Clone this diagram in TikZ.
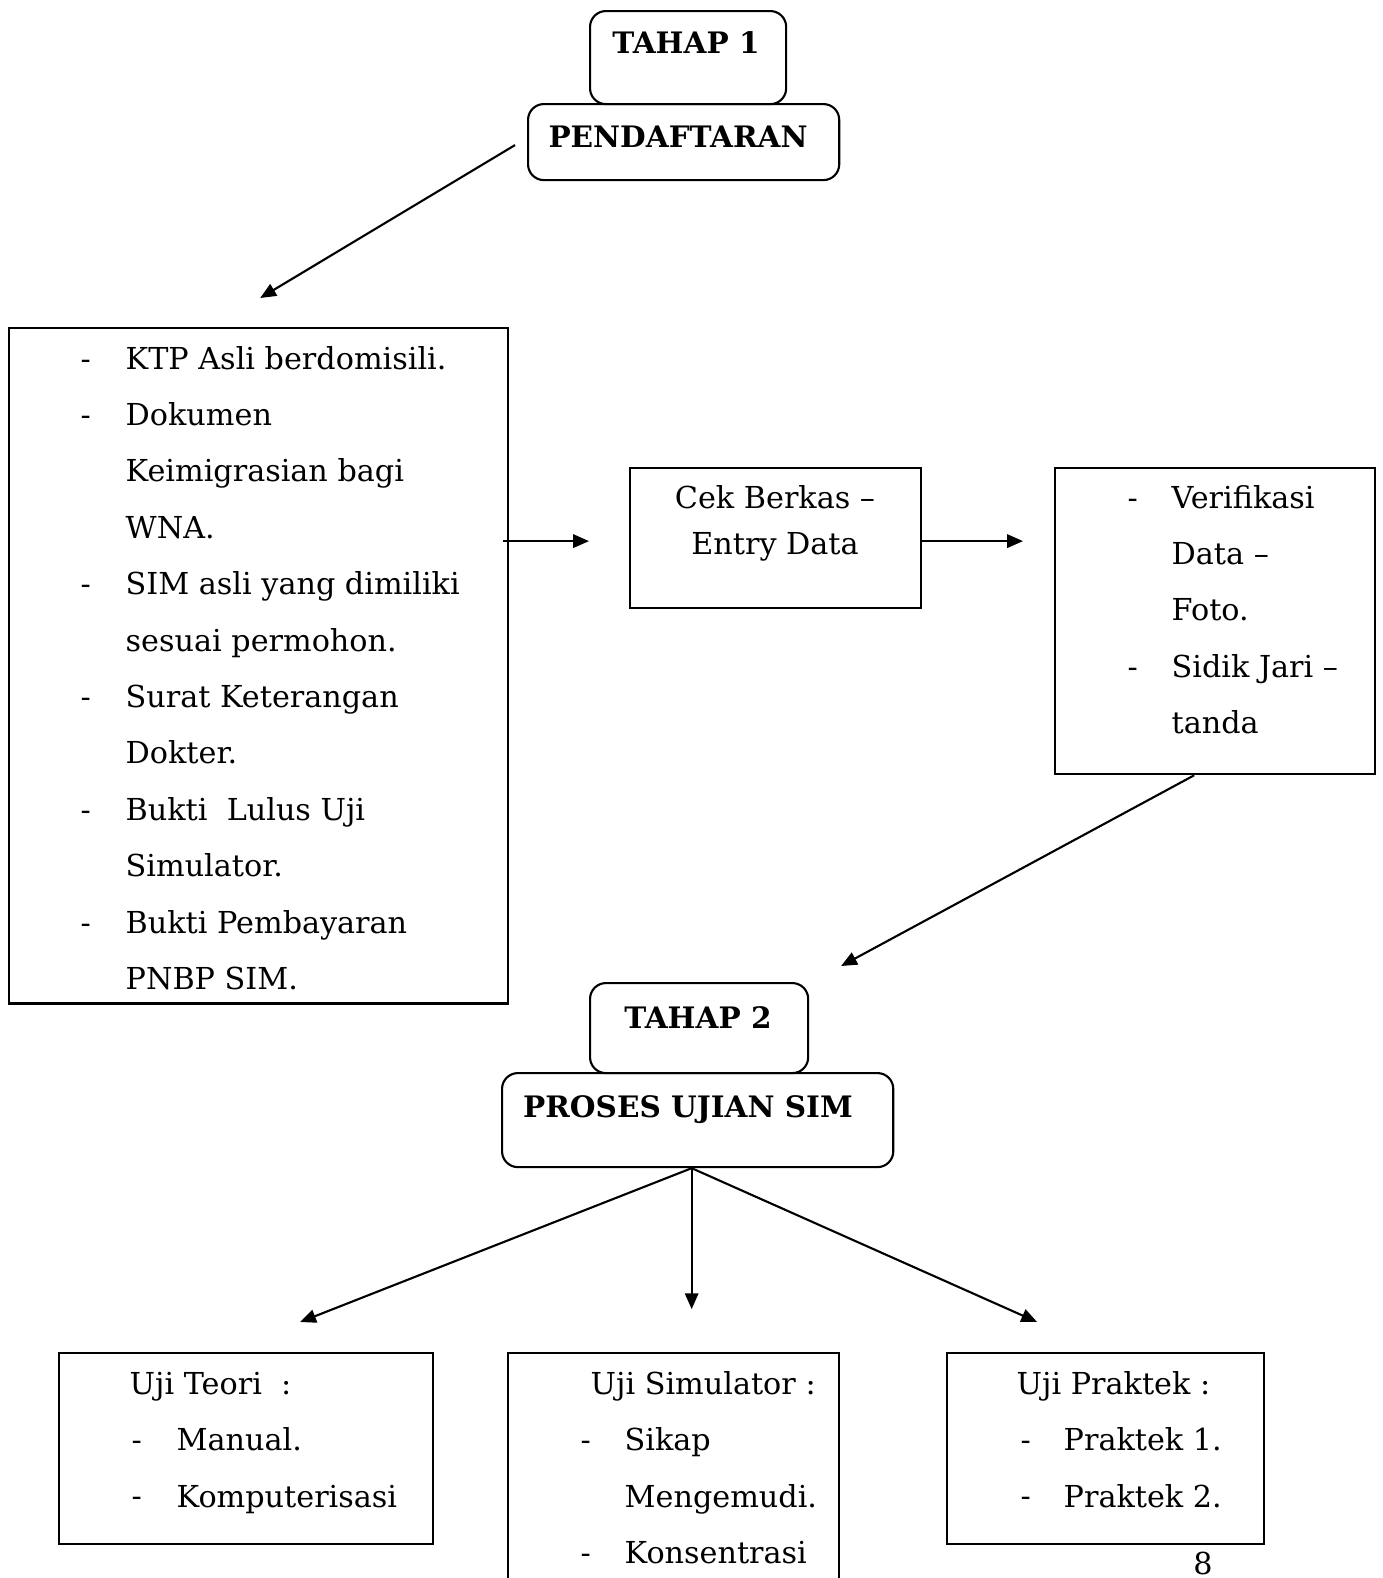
\documentclass[tikz,border=0pt]{standalone}
\usepackage{fontspec}
\setmainfont{DejaVu Serif}
\usetikzlibrary{arrows.meta, positioning, calc}

\begin{document}
\begin{tikzpicture}[x=0.01cm, y=-0.01cm,
    box/.style={draw, line width=0.6pt, anchor=north west, inner sep=0pt},
    rbox/.style={box, rounded corners=4.5pt},
    title/.style={font=\fontsize{8.4}{10}\selectfont\bfseries, anchor=base, inner sep=0pt},
    item/.style={font=\fontsize{8.6}{10}\selectfont, anchor=base west, inner sep=0pt},
    arr/.style={-{Triangle[length=4.5pt, width=3.8pt]}, line width=0.6pt}
  ]
    \useasboundingbox (0,0) rectangle (1383,1578);

    % tahap 1
    \node[rbox, minimum width=1.96cm, minimum height=0.93cm] (tahap1) at (589,10) {};
    \node[rbox, minimum width=3.11cm, minimum height=0.76cm] (daftar) at (527,103) {};
    \node[title] (t1) at (686,53) {TAHAP 1};
    \node[title] (t2) at (678,147) {PENDAFTARAN};

    % persyaratan
    \node[box, minimum width=4.99cm, minimum height=6.75cm] (req) at (8,327) {};
    \foreach \t [count=\i from 0] in {KTP Asli berdomisili., Dokumen, Keimigrasian bagi,
        WNA., SIM asli yang dimiliki, sesuai permohon., Surat Keterangan, Dokter.,
        Bukti\ \ Lulus Uji, Simulator., Bukti Pembayaran, PNBP SIM.}
      \node[item] (r\i) at (125,369+56.4*\i) {\t};
    \foreach \i in {0,1,4,6,8,10}
      \node[item] (rd\i) at (80,369+56.4*\i) {-};

    % cek berkas
    \node[box, minimum width=2.91cm, minimum height=1.40cm] (cek) at (629,467) {};
    \node[item, anchor=base] (c1) at (775,508) {Cek Berkas --};
    \node[item, anchor=base] (c2) at (775,554) {Entry Data};

    % verifikasi
    \node[box, minimum width=3.20cm, minimum height=3.06cm] (verif) at (1054,467) {};
    \foreach \t [count=\i from 0] in {Verifikasi, Data --, Foto., Sidik Jari --, tanda}
      \node[item] (v\i) at (1171,508+56.4*\i) {\t};
    \foreach \i in {0,3}
      \node[item] (vd\i) at (1127,508+56.4*\i) {-};

    % tahap 2
    \node[rbox, minimum width=2.18cm, minimum height=0.90cm] (tahap2) at (589,982) {};
    \node[rbox, minimum width=3.91cm, minimum height=0.94cm] (proses) at (501,1072) {};
    \node[title] (t3) at (698,1028) {TAHAP 2};
    \node[title] (t4) at (688,1117) {PROSES UJIAN SIM};

    % ujian
    \node[box, minimum width=3.74cm, minimum height=1.91cm] (teori) at (58,1352) {};
    \node[item] (u1) at (129,1394) {Uji Teori\ \ :};
    \node[item] (u1a) at (176,1450) {Manual.};
    \node[item] (u1b) at (176,1507) {Komputerisasi};
    \foreach \i in {1,2}
      \node[item] (ud\i) at (131,1394+56.4*\i) {-};

    \node[box, minimum width=3.31cm, minimum height=2.40cm] (sim) at (507,1352) {};
    \node[item] (u2) at (590,1394) {Uji Simulator :};
    \node[item] (u2a) at (624,1450) {Sikap};
    \node[item] (u2b) at (624,1507) {Mengemudi.};
    \node[item] (u2c) at (624,1563) {Konsentrasi};
    \foreach \i in {1,3}
      \node[item] (sd\i) at (580,1394+56.4*\i) {-};

    \node[box, minimum width=3.17cm, minimum height=1.91cm] (praktek) at (946,1352) {};
    \node[item] (u3) at (1016,1394) {Uji Praktek :};
    \node[item] (u3a) at (1063,1450) {Praktek 1.};
    \node[item] (u3b) at (1063,1507) {Praktek 2.};
    \foreach \i in {1,2}
      \node[item] (pd\i) at (1020,1394+56.4*\i) {-};

    \node[item, anchor=base] (pg) at (1203,1574) {8};

    % arrows
    \coordinate (a1s) at ($(daftar.west)+(-12,3)$);
    \coordinate (a1e) at ($(req.north)+(1.5,-29)$);
    \coordinate (a2s) at ($(req.east |- cek.west)+(-6,3)$);
    \coordinate (a2e) at ($(cek.west)+(-40,3)$);
    \coordinate (a3s) at ($(cek.east)+(0,3)$);
    \coordinate (a3e) at ($(verif.west |- cek.east)+(-31,3)$);
    \coordinate (a4s) at ($(verif.south)+(-21,0)$);
    \coordinate (a4e) at ($(tahap2.north)+(142,-16)$);
    \coordinate (hub) at ($(proses.south)+(-6,0)$);
    \coordinate (b1) at ($(teori.north)+(54,-30)$);
    \coordinate (b2) at ($(hub)+(0,141)$);
    \coordinate (b3) at ($(praktek.north)+(-68.5,-30)$);

    \draw[arr] (a1s) -- (a1e);
    \draw[arr] (a2s) -- (a2e);
    \draw[arr] (a3s) -- (a3e);
    \draw[arr] (a4s) -- (a4e);
    \draw[arr] (hub) -- (b1);
    \draw[arr] (hub) -- (b2);
    \draw[arr] (hub) -- (b3);
  \end{tikzpicture}
\end{document}
